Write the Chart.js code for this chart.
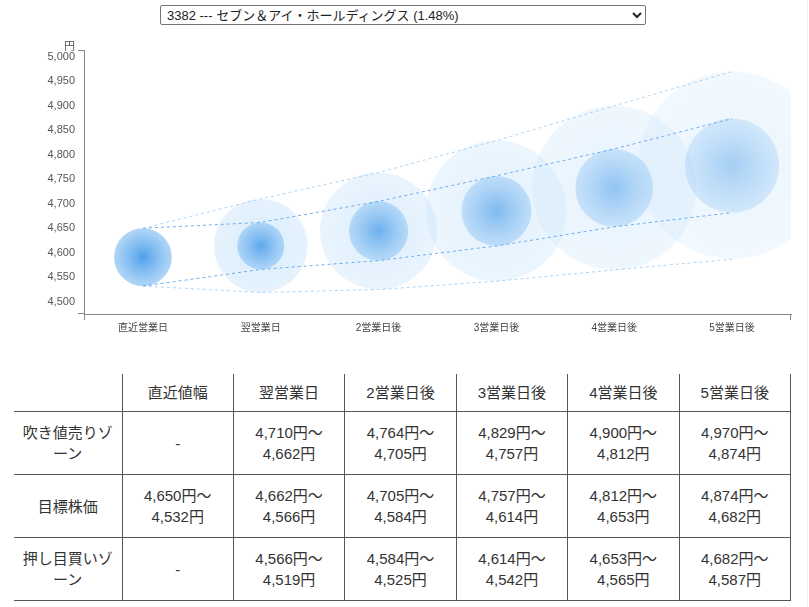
<!DOCTYPE html>
<html lang="ja">
<head>
<meta charset="utf-8">
<script src="https://cdn.jsdelivr.net/npm/chart.js@4.4.1/dist/chart.umd.min.js"></script>
<style>
  html, body { margin: 0; padding: 0; background: #fff; }
  body { width: 809px; height: 607px; position: relative; overflow: hidden;
         font-family: "Helvetica Neue", Arial, "Noto Sans CJK JP", sans-serif; color: #333; }
  body:after { content: ""; position: absolute; left: 807px; top: 0; width: 1px; height: 607px; background: #edf3fa; }
  #pick { position: absolute; left: 160px; top: 5px; width: 486px; height: 20px;
          font-size: 13px; font-family: "Helvetica Neue", Arial, "Noto Sans CJK JP", sans-serif;
          border: 1px solid #767676; border-radius: 2px; background: #fff; color: #222; padding: 0 2px; }
  #box { position: absolute; left: 0; top: 30px; width: 792px; height: 320px; }
  #tbl { position: absolute; left: 14px; top: 374px; width: 777px; border-collapse: collapse;
         table-layout: fixed; font-size: 15px; line-height: 21px; color: #333; }
  #tbl th, #tbl td { border: 1px solid #555; text-align: center; vertical-align: middle;
         padding: 0 6px; font-weight: normal; }
  #tbl tr:first-child th { border-top: none; height: 37px; }
  #tbl tr > *:first-child { border-left: none; }
  #tbl td { height: 62px; }
</style>
</head>
<body>
<select id="pick"><option>3382 --- セブン＆アイ・ホールディングス (1.48%)</option></select>
<div id="box"><canvas id="mycanvas"></canvas></div>
<table id="tbl"></table>
<script>
// chart categories and table headings
var categories = ['直近営業日', '翌営業日', '2営業日後', '3営業日後', '4営業日後', '5営業日後'];
var tableHeads = ['直近値幅', '翌営業日', '2営業日後', '3営業日後', '4営業日後', '5営業日後'];
var rowNames = ['吹き値売りゾーン', '目標株価', '押し目買いゾーン'];

// price zones (円), null = none
var sellHigh   = [null, 4710, 4764, 4829, 4900, 4970];
var sellLow    = [null, 4662, 4705, 4757, 4812, 4874];
var targetHigh = [4650, 4662, 4705, 4757, 4812, 4874];
var targetLow  = [4532, 4566, 4584, 4614, 4653, 4682];
var buyHigh    = [null, 4566, 4584, 4614, 4653, 4682];
var buyLow     = [null, 4519, 4525, 4542, 4565, 4587];

// y axis
var yTicks = [4500, 4550, 4600, 4650, 4700, 4750, 4800, 4850, 4900, 4950, 5000];
var yMin = 4475, yMax = 5014;

var fontFamily = '"Helvetica Neue", Arial, "Noto Sans CJK JP", sans-serif';

// table
function yen(v) { return v.toLocaleString('en-US') + '円'; }
function range(hi, lo) { return hi == null ? '-' : yen(hi) + '〜<br>' + yen(lo); }
var rows = [
    [sellHigh, sellLow],
    [targetHigh, targetLow],
    [buyHigh, buyLow]
];
var html = '<colgroup><col style="width:108px">';
for (var i = 0; i < tableHeads.length; i++) html += '<col>';
html += '</colgroup><tr><th></th>';
for (var i = 0; i < tableHeads.length; i++) html += '<th>' + tableHeads[i] + '</th>';
html += '</tr>';
for (var r = 0; r < rows.length; r++) {
    html += '<tr><td>' + rowNames[r] + '</td>';
    for (var i = 0; i < categories.length; i++) html += '<td>' + range(rows[r][0][i], rows[r][1][i]) + '</td>';
    html += '</tr>';
}
document.getElementById('tbl').innerHTML = html;

// circles: inner = target zone, outer = sell top .. buy bottom
var innerData = [], outerData = [];
for (var i = 0; i < categories.length; i++) {
    innerData.push({x: categories[i], y: (targetHigh[i] + targetLow[i]) / 2, hi: targetHigh[i], lo: targetLow[i]});
    if (sellHigh[i] != null)
        outerData.push({x: categories[i], y: (sellHigh[i] + buyLow[i]) / 2, hi: sellHigh[i], lo: buyLow[i]});
}
var topLine = [], bottomLine = [];
for (var i = 0; i < categories.length; i++) {
    topLine.push(sellHigh[i] == null ? targetHigh[i] : sellHigh[i]);
    bottomLine.push(buyLow[i] == null ? targetLow[i] : buyLow[i]);
}

// radius in pixels = half the price range on the y scale
function zoneRadius(ctx) {
    var d = ctx.raw, ys = ctx.chart.scales.y;
    if (!d || !ys) return 0;
    var rr = Math.abs(ys.getPixelForValue(d.hi) - ys.getPixelForValue(d.lo)) / 2;
    return isFinite(rr) ? rr : 0;
}
function zoneFill(ctx, inner) {
    var d = ctx.raw, c = ctx.chart;
    var fallback = 'rgba(120,180,240,0.3)';
    if (!d || !c.scales.y || !c.scales.x) return fallback;
    var idx = categories.indexOf(d.x);
    var cx = c.scales.x.getPixelForValue(idx), cy = c.scales.y.getPixelForValue(d.y);
    var rr = zoneRadius(ctx);
    if (!isFinite(cx) || !isFinite(cy) || !(rr > 0)) return fallback;
    var g = c.ctx.createRadialGradient(cx, cy, 0, cx, cy, rr);
    if (inner) {
        var a = 1 - idx * 0.11;
        g.addColorStop(0, 'rgba(70,155,232,' + (0.95 * a) + ')');
        g.addColorStop(1, 'rgba(150,200,245,' + (0.75 * a) + ')');
    } else {
        var b = 1 - (idx - 1) * 0.12;
        g.addColorStop(0, 'rgba(190,222,250,' + (0.6 * b) + ')');
        g.addColorStop(1, 'rgba(200,228,251,' + (0.45 * b) + ')');
    }
    return g;
}

// clip the circles to the plot area, draw the axis end ticks and the unit
var plotDecor = {
    id: 'plotDecor',
    beforeDatasetsDraw: function(chart) {
        var ctx = chart.ctx, a = chart.chartArea;
        ctx.save();
        ctx.beginPath();
        ctx.rect(a.left, a.top, a.right - a.left, a.bottom - a.top);
        ctx.clip();
    },
    afterDatasetsDraw: function(chart) {
        chart.ctx.restore();
    },
    afterDraw: function(chart) {
        var ctx = chart.ctx, a = chart.chartArea;
        ctx.save();
        ctx.strokeStyle = '#888';
        ctx.lineWidth = 1;
        ctx.beginPath();
        ctx.moveTo(a.left - 6, a.top + 0.5); ctx.lineTo(a.left, a.top + 0.5);
        ctx.moveTo(a.left - 6, a.bottom - 0.5); ctx.lineTo(a.left, a.bottom - 0.5);
        ctx.moveTo(a.left + 0.5, a.bottom); ctx.lineTo(a.left + 0.5, a.bottom + 6);
        ctx.moveTo(a.right - 0.5, a.bottom); ctx.lineTo(a.right - 0.5, a.bottom + 6);
        ctx.stroke();
        ctx.fillStyle = '#555';
        ctx.font = '11px ' + fontFamily;
        ctx.textAlign = 'right';
        ctx.textBaseline = 'bottom';
        ctx.fillText('円', a.left - 9, a.top + 2);
        ctx.restore();
    }
};

function dashed(data, color) {
    return {type: 'line', data: data, borderColor: color, borderWidth: 1, borderDash: [3, 3],
            pointRadius: 0, fill: false, tension: 0, order: 0, clip: 0};
}
function zone(data, inner, order) {
    return {type: 'scatter', data: data, order: order, clip: 0, showLine: false,
            pointBorderWidth: 0, pointRadius: zoneRadius, pointHoverRadius: zoneRadius,
            pointBackgroundColor: function(ctx) { return zoneFill(ctx, inner); }};
}

var config = {
    type: 'scatter',
    data: {
        labels: categories,
        datasets: [
            dashed(topLine, 'rgba(160,205,245,0.85)'),
            dashed(targetHigh, 'rgba(80,155,232,0.8)'),
            dashed(targetLow, 'rgba(80,155,232,0.8)'),
            dashed(bottomLine, 'rgba(160,205,245,0.85)'),
            zone(innerData, true, 1),
            zone(outerData, false, 2)
        ]
    },
    options: {
        responsive: true,
        maintainAspectRatio: false,
        animation: false,
        events: [],
        layout: {padding: {left: 0, top: 20, right: 1, bottom: 0}},
        plugins: {legend: {display: false}, tooltip: {enabled: false}},
        scales: {
            x: {
                type: 'category',
                offset: true,
                grid: {display: false, drawTicks: false},
                border: {display: true, color: '#888', width: 1},
                ticks: {color: '#444', padding: 8, maxRotation: 0, autoSkip: false,
                        font: {size: 10, family: fontFamily}},
                afterFit: function(s) { s.height = 36; }
            },
            y: {
                type: 'linear',
                min: yMin,
                max: yMax,
                grid: {display: false, drawTicks: false},
                border: {display: true, color: '#888', width: 1},
                afterBuildTicks: function(s) { s.ticks = yTicks.map(function(v) { return {value: v}; }); },
                ticks: {color: '#555', padding: 9, font: {size: 11, family: fontFamily},
                        callback: function(v) { return v.toLocaleString('en-US'); }},
                afterFit: function(s) { s.width = 84; }
            }
        }
    },
    plugins: [plotDecor]
};
var myChart = new Chart(document.getElementById('mycanvas'), config);
</script>
</body>
</html>
